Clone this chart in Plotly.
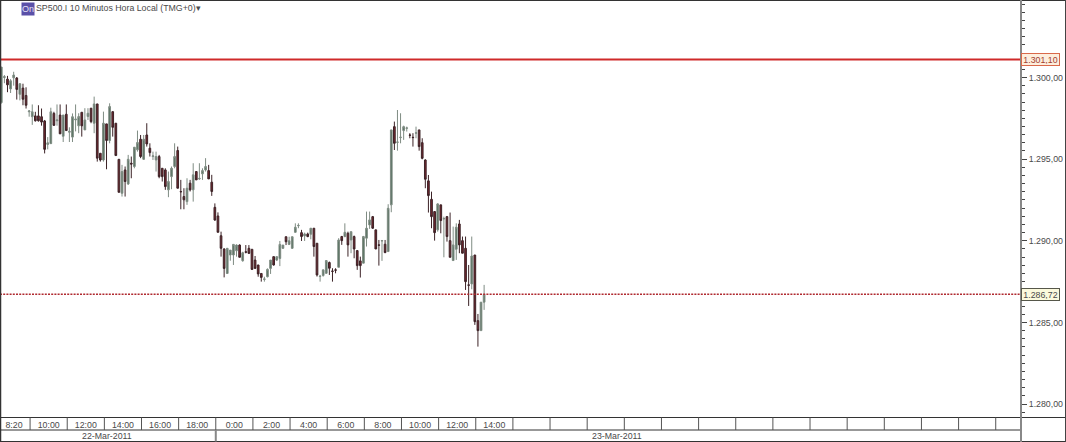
import plotly.graph_objects as go

opens = [1298.46,1300.00,1299.90,1299.30,1299.98,1299.97,1298.97,1299.35,1298.90,1297.90,
1297.60,1297.65,1297.65,1297.60,1297.34,1295.90,1295.95,1297.80,1297.35,1297.70,
1296.40,1297.75,1296.65,1296.35,1297.40,1297.04,1297.87,1296.79,1297.61,1298.12,
1297.20,1298.38,1295.36,1294.95,1297.16,1296.14,1297.91,1297.20,1294.99,1292.91,
1294.34,1293.48,1294.75,1294.55,1295.57,1296.22,1294.99,1296.48,1295.67,1295.16,
1294.95,1295.16,1294.44,1294.34,1293.12,1293.93,1294.55,1295.53,1293.02,1292.71,
1292.40,1293.53,1293.12,1294.24,1293.79,1294.10,1294.34,1294.30,1293.59,1292.05,
1291.52,1290.31,1289.50,1288.00,1289.13,1289.13,1289.39,1289.74,1288.78,1289.33,
1289.54,1289.48,1288.82,1288.52,1288.00,1287.64,1287.80,1288.31,1289.03,1288.82,
1288.92,1289.54,1290.25,1289.78,1289.54,1290.52,1290.92,1290.50,1290.30,1290.42,
1290.40,1290.77,1289.85,1287.81,1287.87,1288.01,1288.67,1288.15,1288.22,1288.38,
1290.26,1290.26,1290.46,1290.05,1290.26,1289.40,1288.77,1288.63,1290.16,1290.97,
1291.48,1290.67,1289.75,1289.99,1289.79,1289.34,1292.20,1296.99,1296.03,1296.32,
1296.75,1296.89,1296.48,1296.34,1296.59,1296.79,1296.01,1294.95,1293.67,1292.54,
1291.79,1290.67,1292.20,1291.34,1291.48,1290.01,1288.79,1289.48,1291.03,1290.01,
1289.54,1287.30,1287.36,1289.13,1285.11,1284.50,1286.24]

highs = [1300.64,1300.15,1300.10,1299.90,1300.35,1300.03,1299.65,1299.62,1299.40,1298.00,
1298.35,1297.90,1298.30,1298.10,1297.40,1296.35,1298.15,1297.90,1298.35,1298.35,
1297.70,1298.35,1296.95,1297.80,1298.35,1297.81,1297.87,1298.12,1298.12,1298.12,
1298.83,1298.38,1295.36,1297.91,1297.16,1298.42,1297.91,1297.20,1294.99,1294.65,
1294.55,1295.26,1295.16,1295.73,1296.75,1296.48,1296.48,1297.20,1295.97,1295.46,
1295.46,1295.26,1294.44,1294.44,1294.24,1294.55,1295.97,1295.77,1293.73,1293.22,
1293.83,1293.73,1294.75,1294.24,1294.75,1294.44,1295.06,1294.65,1294.04,1292.29,
1291.74,1290.56,1289.54,1289.54,1289.43,1289.78,1289.78,1289.78,1289.33,1289.74,
1289.74,1289.48,1289.07,1288.52,1288.00,1287.80,1288.31,1288.82,1289.03,1289.03,
1289.99,1289.74,1290.25,1290.25,1290.25,1291.07,1291.07,1290.67,1290.50,1290.50,
1290.77,1290.77,1289.85,1287.91,1288.22,1288.79,1288.73,1288.32,1288.32,1290.16,
1290.30,1291.07,1290.56,1290.56,1290.32,1289.40,1289.03,1290.30,1291.79,1291.79,
1291.52,1290.67,1290.05,1290.05,1290.05,1292.24,1296.79,1297.30,1298.01,1297.81,
1297.05,1296.99,1296.59,1296.59,1296.99,1296.79,1296.28,1294.99,1294.03,1293.01,
1291.79,1292.30,1292.20,1291.48,1291.52,1291.73,1290.87,1291.07,1291.28,1290.26,
1290.26,1288.52,1290.26,1289.13,1285.52,1286.24,1287.30]

lows = [1298.40,1299.65,1299.10,1299.05,1299.50,1298.65,1298.60,1298.30,1298.10,1297.60,
1297.10,1297.30,1297.30,1297.05,1295.35,1295.60,1295.95,1297.03,1297.05,1296.55,
1296.05,1296.75,1296.05,1296.05,1296.70,1296.59,1296.38,1296.79,1297.40,1297.20,
1296.59,1294.85,1294.85,1294.85,1294.38,1295.97,1296.38,1295.22,1292.97,1292.71,
1292.71,1293.42,1293.83,1294.44,1295.46,1295.06,1294.95,1295.77,1295.16,1294.95,
1294.24,1293.83,1293.63,1293.12,1292.67,1293.16,1294.44,1293.22,1291.93,1291.93,
1292.20,1293.02,1292.40,1293.73,1293.73,1293.73,1294.24,1293.79,1292.75,1291.23,
1290.52,1289.03,1287.76,1288.00,1288.78,1288.52,1289.03,1288.99,1288.72,1289.23,
1289.19,1288.21,1288.31,1287.80,1287.50,1287.50,1287.76,1287.97,1288.48,1288.76,
1288.45,1289.50,1289.74,1289.74,1289.50,1290.50,1290.77,1289.99,1289.99,1290.22,
1290.09,1289.03,1287.81,1287.50,1287.81,1287.97,1287.91,1287.50,1288.01,1288.38,
1289.75,1290.22,1289.03,1289.24,1288.93,1288.22,1287.75,1288.63,1289.65,1290.73,
1290.73,1289.50,1288.48,1288.77,1289.24,1289.34,1291.75,1295.56,1295.52,1295.97,
1296.18,1296.69,1296.28,1295.77,1296.28,1295.52,1294.99,1293.22,1291.73,1290.77,
1290.01,1290.56,1290.46,1288.99,1289.95,1288.99,1288.79,1288.83,1289.24,1289.24,
1286.99,1286.01,1287.03,1284.85,1283.52,1284.50,1285.77]

closes = [1300.64,1300.05,1299.55,1299.80,1300.15,1299.27,1299.62,1298.67,1298.30,1297.95,
1297.90,1297.35,1297.35,1297.27,1295.60,1296.00,1297.90,1297.07,1297.40,1296.55,
1297.70,1296.75,1296.70,1297.60,1297.45,1297.61,1297.04,1297.40,1297.81,1297.30,
1298.38,1295.06,1294.95,1297.20,1296.14,1298.22,1296.95,1295.22,1292.97,1294.24,
1293.63,1294.99,1294.70,1295.73,1296.02,1295.16,1296.22,1295.93,1295.40,1295.20,
1295.16,1293.93,1293.93,1293.32,1293.63,1294.44,1295.16,1293.22,1293.00,1292.51,
1293.22,1293.12,1294.04,1293.73,1293.82,1294.30,1294.55,1293.79,1293.02,1291.27,
1290.52,1289.54,1288.31,1289.54,1289.43,1289.78,1289.74,1288.99,1289.27,1289.30,
1289.23,1288.25,1288.31,1287.97,1287.76,1287.66,1288.25,1288.82,1288.52,1289.03,
1289.78,1289.74,1289.94,1290.00,1290.25,1290.83,1290.94,1290.26,1290.42,1290.26,
1290.77,1289.65,1287.91,1287.83,1288.22,1288.79,1288.32,1288.13,1288.20,1290.05,
1290.01,1290.52,1289.75,1290.56,1289.50,1288.48,1288.48,1290.26,1290.77,1291.28,
1290.77,1289.50,1289.73,1290.01,1289.28,1291.99,1296.79,1295.97,1296.05,1296.34,
1296.99,1296.91,1296.46,1296.32,1296.61,1295.77,1295.05,1293.77,1292.77,1291.48,
1290.50,1292.26,1291.24,1291.36,1290.26,1288.99,1289.75,1290.83,1289.75,1289.24,
1287.50,1287.28,1289.07,1285.05,1284.50,1286.24,1286.72]

session_labels = ["8:20","10:00","12:00","14:00","16:00","18:00","0:00","2:00","4:00","6:00","8:00","10:00","12:00","14:00"]
date_labels = ["22-Mar-2011","23-Mar-2011"]
resistance = 1301.10
last_price = 1286.72
price_ticks = [1280,1285,1290,1295,1300]

W, H = 1066, 442
ML, MR, MT, MB = 0, 45, 0, 24
PW, PH = W-ML-MR, H-MT-MB
PXB = 3.095          # px per bar
X0 = 1.3             # px of bar 0
PXU = 16.33          # px per price unit
xr = [(0-X0)/PXB, (PW-X0)/PXB]
yr = [1300-(PH-77.5)/PXU, 1300+77.5/PXU]
px = lambda v: (v-ML)/PW
py = lambda v: 1-(v-MT)/PH

FONT = "Liberation Sans, Arial, sans-serif"
TXT = "#4a4a4a"
FS = 8.8

seps = [9.3+12*k for k in range(27)]
centres = [4.1]+[s+6 for s in seps[:13]]

fig = go.Figure(go.Candlestick(
    x=list(range(len(opens))), open=opens, high=highs, low=lows, close=closes,
    increasing=dict(line=dict(color="#7f8c83", width=1), fillcolor="#55705f"),
    decreasing=dict(line=dict(color="#3b2226", width=1), fillcolor="#74262e"),
    whiskerwidth=0, showlegend=False,
))

shapes = []
def line(x0, y0, x1, y1, color, width=1, xref="paper", yref="paper", dash="solid"):
    shapes.append(dict(type="line", x0=x0, y0=y0, x1=x1, y1=y1, xref=xref, yref=yref,
                       line=dict(color=color, width=width, dash=dash), layer="above"))

line(0, resistance, 1, resistance, "#cf2a2a", 2, yref="y")
line(0, last_price, 1, last_price, "#b02a30", 1.5, yref="y", dash="2px,1.2px")
r1, r2, r3 = py(417.5), py(430), py(441.5)
line(px(0), r1, px(W), r1, "#333333")
line(px(0), r2, px(1021), r2, "#333333")
line(px(0), r3, px(W), r3, "#333333")
for s in seps:
    line(s, r1, s, r2, "#555555", xref="x")
line(seps[5], r2, seps[5], r3, "#888888", 2, xref="x")
line(px(0.5), py(0), px(0.5), py(H), "#333333", 1.5)
line(px(0), py(0.5), px(W), py(0.5), "#333333")
line(px(W-0.5), py(0), px(W-0.5), py(H), "#444444")
line(px(1021), py(0), px(1021), py(H), "#888888", 2)

annotations = [
    dict(x=px(21), y=py(9), xref="paper", yref="paper", xanchor="left", yanchor="middle",
         text="On", showarrow=False, font=dict(family=FONT, size=9, color="#e4e2f5"),
         bgcolor="#5a50a8", width=12, height=12, borderpad=0),
    dict(x=px(34), y=py(8), xref="paper", yref="paper", xanchor="left", yanchor="middle",
         text="SP500.I 10 Minutos Hora Local (TMG+0)\u25be", showarrow=False,
         font=dict(family=FONT, size=FS, color=TXT)),
    dict(x=px(107), y=py(436), xref="paper", yref="paper", xanchor="center", yanchor="middle",
         text=date_labels[0], showarrow=False, font=dict(family=FONT, size=FS, color=TXT)),
    dict(x=px(617), y=py(436), xref="paper", yref="paper", xanchor="center", yanchor="middle",
         text=date_labels[1], showarrow=False, font=dict(family=FONT, size=FS, color=TXT)),
    dict(x=px(1021), y=resistance, xref="paper", yref="y", xanchor="left", yanchor="middle",
         text="1.301,10", showarrow=False, font=dict(family=FONT, size=FS, color="#a04030"),
         bgcolor="#fdeedd", bordercolor="#d9694a", borderwidth=1, borderpad=1, width=35, height=9),
    dict(x=px(1021), y=last_price, xref="paper", yref="y", xanchor="left", yanchor="middle",
         text="1.286,72", showarrow=False, font=dict(family=FONT, size=FS, color=TXT),
         bgcolor="#fbf9dc", bordercolor="#56574a", borderwidth=1, borderpad=1, width=35, height=9),
]

fig.update_layout(
    width=W, height=H, margin=dict(l=ML, r=MR, t=MT, b=MB),
    paper_bgcolor="white", plot_bgcolor="white", separators=",.",
    showlegend=False, shapes=shapes, annotations=annotations, boxgap=0.22,
    xaxis=dict(range=xr, rangeslider=dict(visible=False), showgrid=False, zeroline=False,
               showline=False, ticks="", tickmode="array", tickvals=centres, ticktext=session_labels,
               tickfont=dict(family=FONT, size=FS, color=TXT), tickangle=0, automargin=False),
    yaxis=dict(range=yr, side="right", showgrid=False, zeroline=False, showline=False,
               tickmode="array", tickvals=price_ticks, tickformat=",.2f",
               ticks="outside", ticklen=5, tickcolor="#444444",
               minor=dict(dtick=0.5, ticks="outside", ticklen=3, tickcolor="#444444", showgrid=False),
               tickfont=dict(family=FONT, size=FS, color=TXT), automargin=False),
)

fig.write_html("out.html", config=dict(displayModeBar=False),
               post_script="document.body.style.margin='0';window.dispatchEvent(new Event('resize'));")
